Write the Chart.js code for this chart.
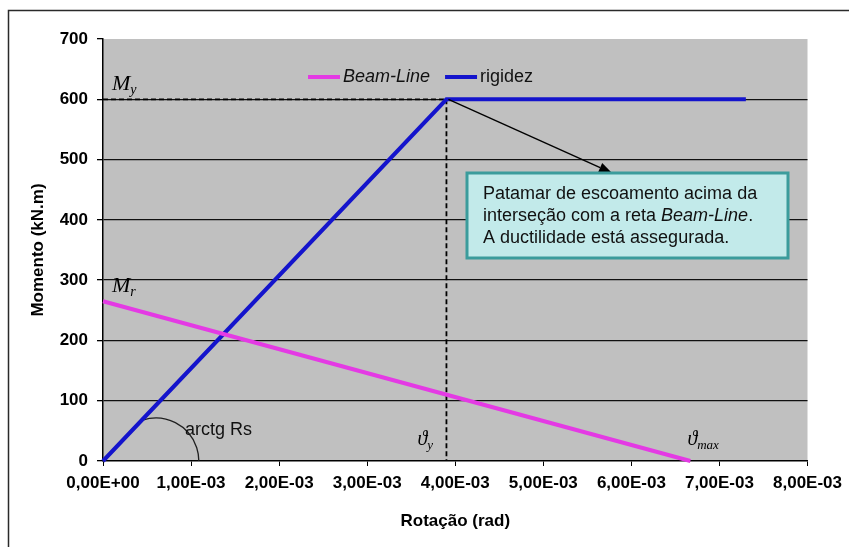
<!DOCTYPE html>
<html>
<head>
<meta charset="utf-8">
<script src="https://cdn.jsdelivr.net/npm/chart.js@4.4.1/dist/chart.umd.min.js"></script>
<style>
  html, body { margin: 0; padding: 0; background: #ffffff; }
  #wrap { width: 849px; height: 547px; }
</style>
</head>
<body>
<div id="wrap"><canvas id="chart" width="849" height="547"></canvas></div>
<script>
// Curva de rigidez da ligação e reta Beam-Line
const rotacaoRigidez = [0, 0.0039, 0.0073];
const momentoRigidez = [0, 600, 600];
const rotacaoBeamLine = [0, 0.00667];
const momentoBeamLine = [265, 0];

// Marcas dos eixos
const rotacaoTicks = [0, 0.001, 0.002, 0.003, 0.004, 0.005, 0.006, 0.007, 0.008];
const momentoTicks = [0, 100, 200, 300, 400, 500, 600, 700];

// Pontos notáveis
const thetaY = rotacaoRigidez[1];
const My = momentoRigidez[1];
const Mr = momentoBeamLine[0];
const thetaMax = rotacaoBeamLine[1];

const nota = [
  [{ t: 'Patamar de escoamento acima da' }],
  [{ t: 'interseção com a reta ' }, { t: 'Beam-Line', i: true }, { t: '.' }],
  [{ t: 'A ductilidade está assegurada.' }]
];

const SANS = '"Liberation Sans", Arial, sans-serif';
const SERIF = '"Liberation Serif", "DejaVu Serif", "Times New Roman", serif';

function fmtSci(v) {
  if (Math.abs(v) < 1e-12) return '0,00E+00';
  const parts = v.toExponential(2).split('e');
  const e = parseInt(parts[1], 10);
  const sign = e < 0 ? '-' : '+';
  return parts[0].replace('.', ',') + 'E' + sign + String(Math.abs(e)).padStart(2, '0');
}

function toPoints(xs, ys) {
  return xs.map((x, i) => ({ x: x, y: ys[i] }));
}

function drawSub(ctx, main, sub, x, y, mainSize, subSize) {
  ctx.font = 'italic ' + mainSize + 'px ' + SERIF;
  ctx.textAlign = 'left';
  ctx.textBaseline = 'alphabetic';
  ctx.fillText(main, x, y);
  const w = ctx.measureText(main).width;
  ctx.font = 'italic ' + subSize + 'px ' + SERIF;
  ctx.fillText(sub, x + w, y + 4);
}

const decor = {
  id: 'decor',
  beforeDraw(chart) {
    const ctx = chart.ctx;
    const ca = chart.chartArea;
    ctx.save();
    ctx.fillStyle = '#ffffff';
    ctx.fillRect(0, 0, chart.width, chart.height);
    // moldura do gráfico
    ctx.strokeStyle = '#2a2a2a';
    ctx.lineWidth = 1.5;
    ctx.beginPath();
    ctx.moveTo(8.5, chart.height);
    ctx.lineTo(8.5, 10.5);
    ctx.lineTo(chart.width, 10.5);
    ctx.stroke();
    // área de plotagem
    ctx.fillStyle = '#c0c0c0';
    ctx.fillRect(ca.left, ca.top, ca.right - ca.left, ca.bottom - ca.top);
    ctx.restore();
  },
  beforeDatasetsDraw(chart) {
    const ctx = chart.ctx;
    const xs = chart.scales.x, ys = chart.scales.y;
    const px = xs.getPixelForValue(thetaY);
    const py = ys.getPixelForValue(My);
    const x0 = xs.getPixelForValue(0);
    const y0 = ys.getPixelForValue(0);
    ctx.save();
    // linhas de referência My e θy
    ctx.strokeStyle = '#000000';
    ctx.lineWidth = 1.8;
    ctx.setLineDash([5, 3]);
    ctx.beginPath();
    ctx.moveTo(x0, py);
    ctx.lineTo(px, py);
    ctx.moveTo(px, py);
    ctx.lineTo(px, y0);
    ctx.stroke();
    ctx.setLineDash([]);
    // arco do ângulo arctg Rs
    const cx = xs.getPixelForValue(0.0006);
    ctx.lineWidth = 1.3;
    ctx.strokeStyle = '#202020';
    ctx.beginPath();
    ctx.arc(cx, y0, 43, -Math.PI * 0.6, 0);
    ctx.stroke();
    ctx.restore();
  },
  afterDatasetsDraw(chart) {
    const ctx = chart.ctx;
    const ca = chart.chartArea;
    const xs = chart.scales.x, ys = chart.scales.y;
    const px = xs.getPixelForValue(thetaY);
    const py = ys.getPixelForValue(My);
    const y0 = ys.getPixelForValue(0);
    ctx.save();
    ctx.fillStyle = '#000000';

    // caixa de observação
    const bx = ca.left + 364, by = ca.top + 134, bw = 321, bh = 85;
    // seta
    const tx = bx + 145, ty = by;
    ctx.strokeStyle = '#000000';
    ctx.lineWidth = 1.4;
    ctx.beginPath();
    ctx.moveTo(px + 2, py);
    const ang = Math.atan2(ty - py, tx - px - 2);
    const hl = 13, hw = 5;
    ctx.lineTo(tx - hl * Math.cos(ang), ty - hl * Math.sin(ang));
    ctx.stroke();
    ctx.beginPath();
    ctx.moveTo(tx, ty);
    ctx.lineTo(tx - hl * Math.cos(ang) + hw * Math.sin(ang), ty - hl * Math.sin(ang) - hw * Math.cos(ang));
    ctx.lineTo(tx - hl * Math.cos(ang) - hw * Math.sin(ang), ty - hl * Math.sin(ang) + hw * Math.cos(ang));
    ctx.closePath();
    ctx.fill();

    ctx.fillStyle = '#c2eaea';
    ctx.fillRect(bx, by, bw, bh);
    ctx.strokeStyle = '#3b9c9c';
    ctx.lineWidth = 3;
    ctx.strokeRect(bx, by, bw, bh);
    ctx.fillStyle = '#111111';
    ctx.textAlign = 'left';
    ctx.textBaseline = 'alphabetic';
    nota.forEach((linha, i) => {
      let x = bx + 16;
      const y = by + 26 + i * 22;
      linha.forEach(seg => {
        ctx.font = (seg.i ? 'italic ' : '') + '18px ' + SANS;
        ctx.fillText(seg.t, x, y);
        x += ctx.measureText(seg.t).width;
      });
    });

    // rótulos dos pontos notáveis
    ctx.fillStyle = '#000000';
    drawSub(ctx, 'M', 'y', xs.getPixelForValue(0) + 9, py - 9, 22, 14);
    drawSub(ctx, 'M', 'r', xs.getPixelForValue(0) + 9, ys.getPixelForValue(Mr) - 9, 22, 14);
    drawSub(ctx, 'ϑ', 'y', px - 29, y0 - 16, 20, 13);
    drawSub(ctx, 'ϑ', 'max', xs.getPixelForValue(thetaMax) - 3, y0 - 16, 20, 13);

    ctx.font = '18px ' + SANS;
    ctx.fillStyle = '#111111';
    ctx.fillText('arctg Rs', xs.getPixelForValue(0.00093), y0 - 26);

    // legenda
    let lx = ca.left + 205;
    const ly = ca.top + 38;
    chart.data.datasets.forEach(ds => {
      ctx.strokeStyle = ds.borderColor;
      ctx.lineWidth = 4;
      ctx.beginPath();
      ctx.moveTo(lx, ly);
      ctx.lineTo(lx + 32, ly);
      ctx.stroke();
      ctx.font = (ds.label === 'Beam-Line' ? 'italic ' : '') + '18px ' + SANS;
      ctx.fillStyle = '#111111';
      ctx.textBaseline = 'middle';
      ctx.fillText(ds.label, lx + 35, ly);
      lx += 35 + ctx.measureText(ds.label).width + 15;
    });
    ctx.restore();
  }
};

new Chart(document.getElementById('chart'), {
  type: 'line',
  data: {
    datasets: [
      {
        label: 'Beam-Line',
        data: toPoints(rotacaoBeamLine, momentoBeamLine),
        borderColor: '#e43ae4',
        borderWidth: 4,
        pointRadius: 0,
        clip: false
      },
      {
        label: 'rigidez',
        data: toPoints(rotacaoRigidez, momentoRigidez),
        borderColor: '#1414cc',
        borderWidth: 4,
        pointRadius: 0,
        clip: false
      }
    ]
  },
  options: {
    responsive: false,
    animation: false,
    events: [],
    layout: { padding: { top: 39, right: 41, left: 0, bottom: 0 } },
    plugins: {
      legend: { display: false },
      tooltip: { enabled: false }
    },
    scales: {
      x: {
        type: 'linear',
        min: 0,
        max: 0.008,
        afterBuildTicks: s => { s.ticks = rotacaoTicks.map(v => ({ value: v })); },
        afterFit: s => { s.height = 86; },
        ticks: {
          callback: v => fmtSci(v),
          color: '#000000',
          font: { family: SANS, size: 17, weight: 'bold' },
          padding: 7,
          maxRotation: 0,
          autoSkip: false
        },
        grid: { drawOnChartArea: false, drawTicks: true, tickLength: 5, tickColor: '#000000' },
        border: { display: true, color: '#000000', width: 1.5 },
        title: {
          display: true,
          text: 'Rotação (rad)',
          color: '#000000',
          font: { family: SANS, size: 17, weight: 'bold' },
          padding: { top: 0, bottom: 15 }
        }
      },
      y: {
        type: 'linear',
        min: 0,
        max: 700,
        afterBuildTicks: s => { s.ticks = momentoTicks.map(v => ({ value: v })); },
        afterFit: s => { s.width = 103; },
        ticks: {
          color: '#000000',
          font: { family: SANS, size: 17, weight: 'bold' },
          padding: 9
        },
        grid: {
          drawOnChartArea: true,
          drawTicks: true,
          tickLength: 6,
          tickColor: '#000000',
          lineWidth: 1.3,
          color: c => (c.tick && (c.tick.value === 700 || c.tick.value === 0)) ? 'rgba(0,0,0,0)' : '#111111'
        },
        border: { display: true, color: '#000000', width: 1.5 },
        title: {
          display: true,
          text: 'Momento (kN.m)',
          color: '#000000',
          font: { family: SANS, size: 17, weight: 'bold' },
          padding: { top: 28, bottom: 0 }
        }
      }
    }
  },
  plugins: [decor]
});
</script>
</body>
</html>
